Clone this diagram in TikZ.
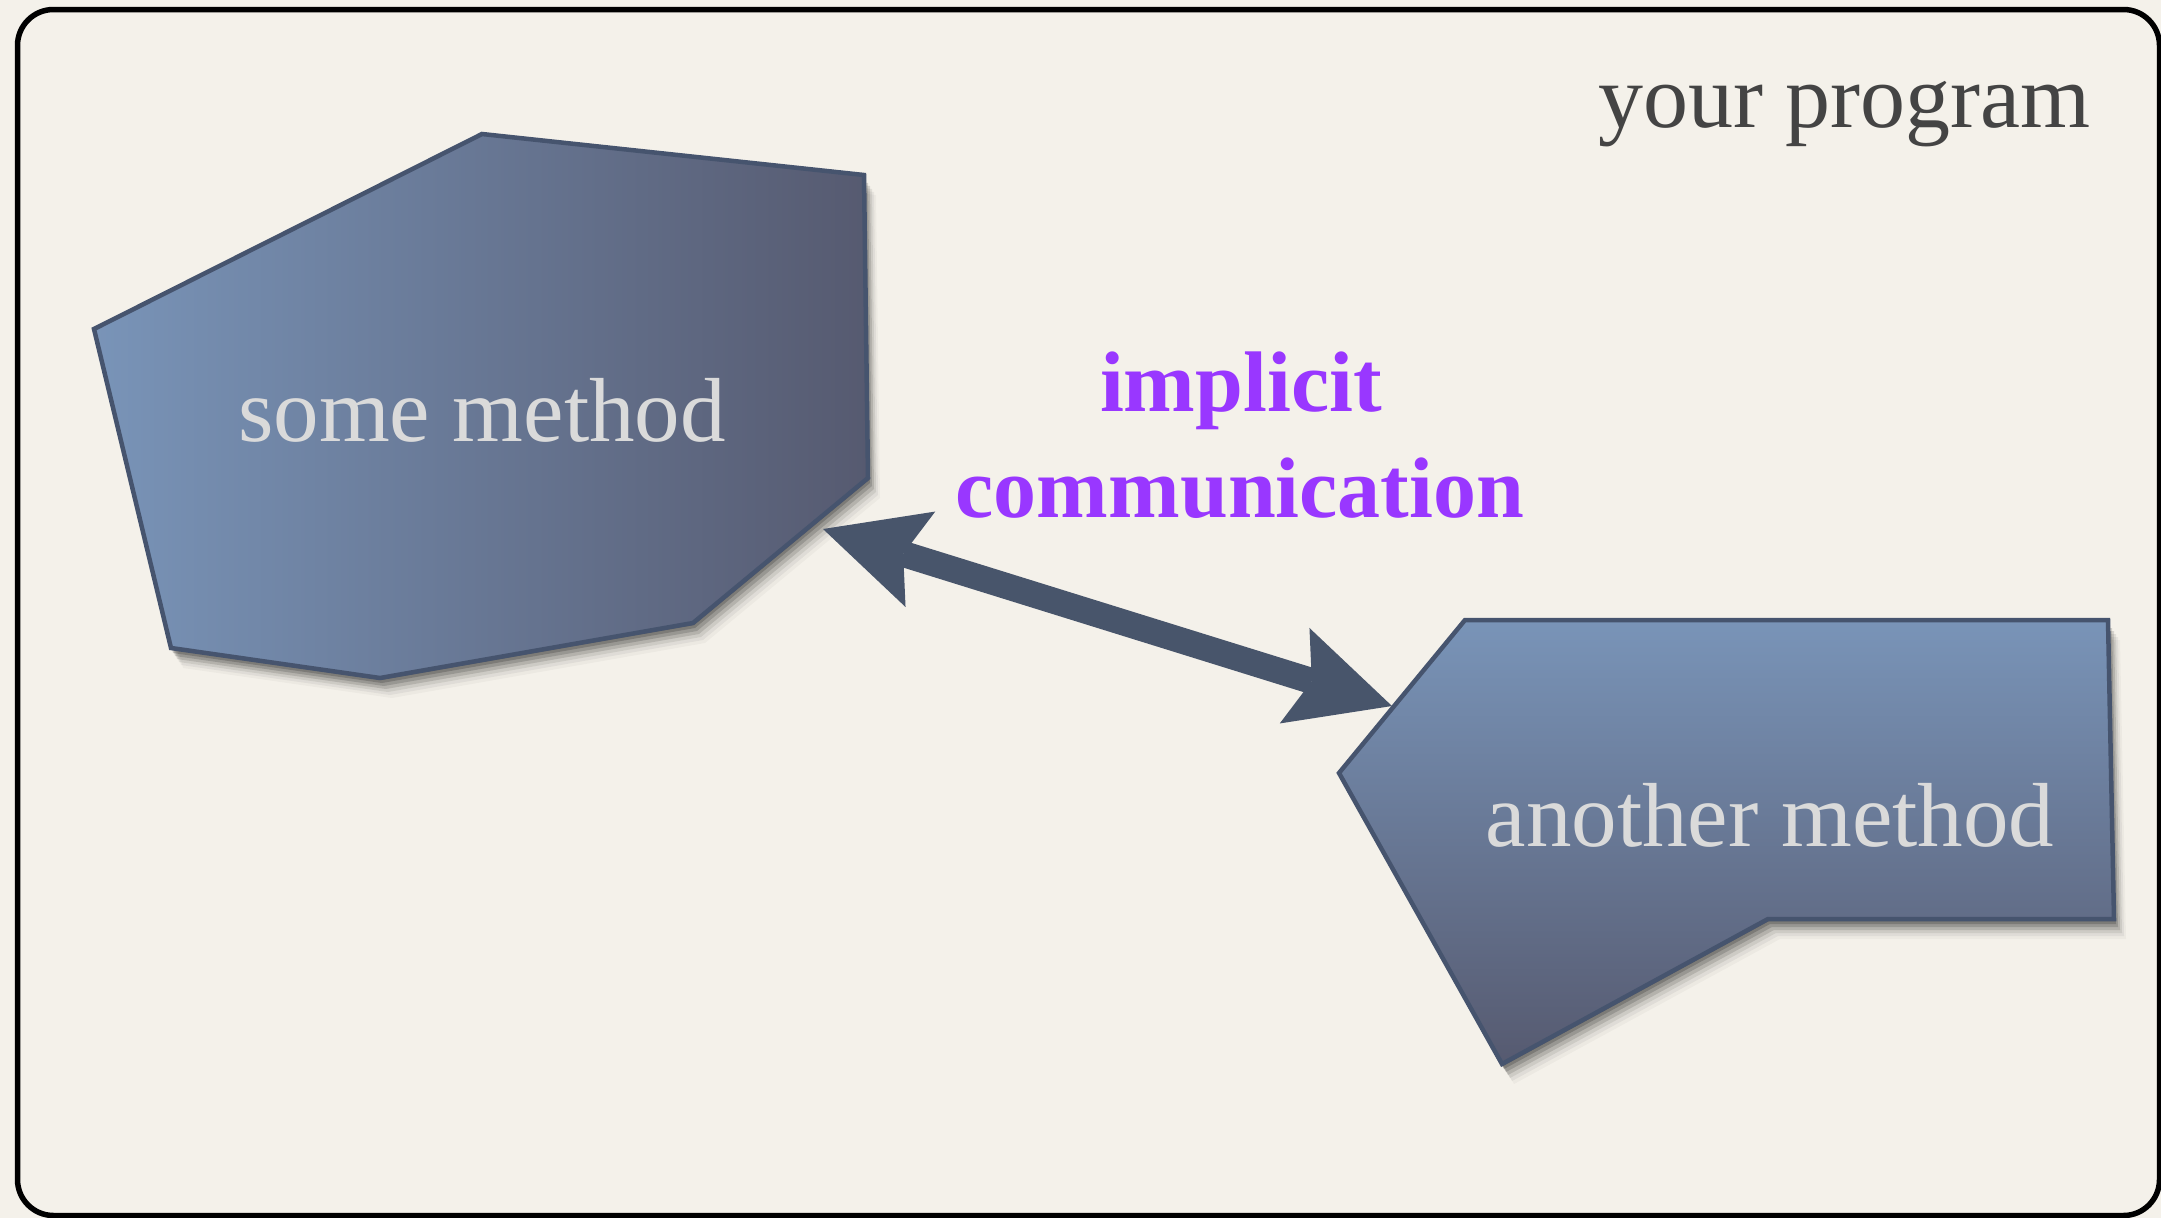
\documentclass[tikz,border=0pt]{standalone}
\usepackage{fontspec}
\setmainfont{Liberation Serif}
\usetikzlibrary{arrows.meta}
\definecolor{linen}{RGB}{244,241,234}
\definecolor{edgecol}{RGB}{70,84,110}
\definecolor{arrowcol}{RGB}{72,85,107}
\definecolor{purp}{RGB}{153,55,255}
\definecolor{labgrey}{RGB}{218,218,218}
\definecolor{progcol}{RGB}{68,68,68}
\definecolor{gA}{RGB}{121,148,184}
\definecolor{gB}{RGB}{86,90,112}
\tikzset{
  methodlbl/.style={inner sep=0pt, anchor=base, text=labgrey, font=\fontsize{91}{100}\selectfont},
  commlbl/.style={inner sep=0pt, anchor=base, text=purp, font=\fontsize{86}{100}\selectfont\bfseries},
  shapeedge/.style={draw=edgecol, line width=4.5pt, line join=miter},
  bigarrow/.style={draw=arrowcol, line width=26pt,
    {Stealth[length=102pt,width=100pt,inset=18pt,line width=0pt]}-{Stealth[length=102pt,width=100pt,inset=18pt,line width=0pt]}}
}
\def\shapeA{(482,134) -- (864,175) -- (868,478) -- (693,623) -- (380,678) -- (171,648) -- (94,329) -- cycle}
\def\shapeB{(1465,620) -- (2108,620) -- (2114,919) -- (1768,919) -- (1502,1064) -- (1339,773) -- cycle}
\begin{document}
\begin{tikzpicture}[x=1pt,y=-1pt]
\useasboundingbox (0,0) rectangle (2161,1218);
\fill[linen] (0,0) rectangle (2161,1218);
\draw[line width=5.5pt, rounded corners=36pt] (17.5,9.5) rectangle (2159.5,1215.5);
% shadows
\foreach \dx/\dy/\op in {1/2/0.2, 2/5/0.18, 4/8/0.15, 6/11/0.12, 8/14/0.08, 10/17/0.05, 12/20/0.03}{
  \fill[black, opacity=\op, shift={(\dx,\dy)}] \shapeA;
  \fill[black, opacity=\op, shift={(\dx,\dy)}] \shapeB;
}
% shapes
\shade[left color=gA, right color=gB] \shapeA;
\draw[shapeedge] \shapeA;
\shade[top color=gA, bottom color=gB] \shapeB;
\draw[shapeedge] \shapeB;
% labels
\node[methodlbl] (m1) at (482,441) {some method};
\node[methodlbl] (m2) at (1770,846) {another method};
\node[inner sep=0pt, anchor=base east, text=progcol, font=\fontsize{90}{100}\selectfont] (prog) at (2091,127) {your program};
\node[commlbl] (impl) at (1241,411) {implicit};
\node[commlbl] (comm) at (1240,517) {communication};
% arrow
\coordinate (tipA) at (823,529);
\coordinate (tipB) at (1392,706);
\draw[bigarrow] (tipA) -- (tipB);
\end{tikzpicture}
\end{document}
